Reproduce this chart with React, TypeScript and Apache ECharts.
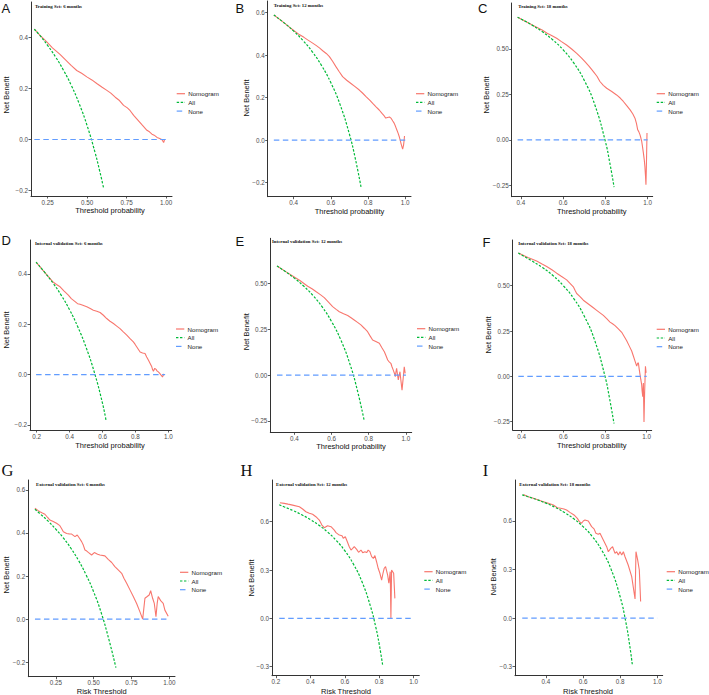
import React, { useEffect, useRef } from "react";
import * as echarts from "echarts";

// ---- Decision curves: [threshold, net benefit] ----
const nomogramA = [[0.165,0.433],[0.2,0.41],[0.244,0.383],[0.28,0.36],[0.328,0.334],[0.371,0.308],[0.4,0.29],[0.434,0.271],[0.465,0.26],[0.498,0.246],[0.53,0.234],[0.561,0.22],[0.595,0.205],[0.625,0.193],[0.65,0.182],[0.678,0.166],[0.705,0.153],[0.731,0.134],[0.755,0.124],[0.773,0.113],[0.795,0.095],[0.816,0.08],[0.847,0.058],[0.879,0.036],[0.895,0.03],[0.911,0.021],[0.925,0.017],[0.943,0.008],[0.96,0.004],[0.975,-0.001],[0.985,-0.012],[0.991,0.0]];
const allA = [[0.165,0.433],[0.2,0.409],[0.25,0.369],[0.3,0.324],[0.35,0.272],[0.4,0.212],[0.45,0.14],[0.5,0.054],[0.55,-0.051],[0.58,-0.125],[0.604,-0.19]];
const noneA = [0.165, 1.0];
const xTicksA = [0.25, 0.5, 0.75, 1.0];
const yTicksA = [-0.2, 0, 0.2, 0.4];

const nomogramB = [[0.293,0.589],[0.33,0.565],[0.37,0.537],[0.4,0.516],[0.43,0.497],[0.455,0.484],[0.475,0.472],[0.5,0.458],[0.52,0.446],[0.54,0.433],[0.556,0.421],[0.575,0.408],[0.592,0.393],[0.61,0.37],[0.627,0.346],[0.645,0.322],[0.663,0.299],[0.685,0.282],[0.708,0.267],[0.73,0.252],[0.753,0.236],[0.77,0.222],[0.789,0.205],[0.81,0.187],[0.825,0.173],[0.843,0.157],[0.86,0.142],[0.875,0.126],[0.887,0.114],[0.895,0.104],[0.905,0.107],[0.915,0.109],[0.923,0.104],[0.933,0.09],[0.941,0.079],[0.948,0.064],[0.955,0.048],[0.962,0.032],[0.968,0.016],[0.973,0.0],[0.977,-0.015],[0.982,-0.03],[0.986,-0.042],[0.989,-0.03],[0.991,-0.023],[0.994,0.0],[0.996,0.02]];
const allB = [[0.293,0.589],[0.35,0.551],[0.4,0.513],[0.45,0.469],[0.5,0.416],[0.55,0.351],[0.6,0.27],[0.65,0.166],[0.7,0.027],[0.73,-0.081],[0.762,-0.22]];
const noneB = [0.293, 1.0];
const xTicksB = [0.4, 0.6, 0.8, 1.0];
const yTicksB = [-0.2, 0, 0.2, 0.4, 0.6];

const nomogramC = [[0.384,0.675],[0.42,0.652],[0.46,0.628],[0.5,0.604],[0.522,0.588],[0.545,0.574],[0.569,0.559],[0.59,0.542],[0.616,0.522],[0.64,0.5],[0.664,0.476],[0.685,0.452],[0.703,0.43],[0.723,0.404],[0.743,0.375],[0.76,0.35],[0.774,0.321],[0.79,0.3],[0.806,0.284],[0.83,0.266],[0.853,0.247],[0.87,0.23],[0.885,0.211],[0.9,0.19],[0.917,0.165],[0.93,0.142],[0.94,0.119],[0.947,0.09],[0.953,0.055],[0.958,0.045],[0.964,0.027],[0.968,0.01],[0.972,-0.009],[0.976,-0.04],[0.98,-0.073],[0.984,-0.11],[0.987,-0.147],[0.99,-0.2],[0.992,-0.247],[0.994,-0.15],[0.995,-0.092],[0.997,0.037]];
const allC = [[0.384,0.675],[0.45,0.633],[0.5,0.596],[0.55,0.551],[0.6,0.495],[0.65,0.423],[0.7,0.327],[0.75,0.192],[0.8,-0.01],[0.82,-0.122],[0.841,-0.26]];
const noneC = [0.384, 1.0];
const xTicksC = [0.4, 0.6, 0.8, 1.0];
const yTicksC = [-0.25, 0, 0.25, 0.5];

const nomogramD = [[0.196,0.447],[0.23,0.42],[0.26,0.397],[0.301,0.367],[0.32,0.358],[0.342,0.349],[0.365,0.333],[0.392,0.316],[0.41,0.302],[0.433,0.29],[0.448,0.282],[0.463,0.28],[0.48,0.276],[0.504,0.27],[0.525,0.263],[0.544,0.256],[0.565,0.252],[0.585,0.247],[0.605,0.236],[0.625,0.223],[0.645,0.212],[0.666,0.203],[0.686,0.193],[0.706,0.183],[0.726,0.17],[0.747,0.157],[0.767,0.143],[0.787,0.13],[0.798,0.12],[0.808,0.11],[0.818,0.1],[0.828,0.09],[0.843,0.086],[0.858,0.084],[0.868,0.07],[0.879,0.057],[0.889,0.044],[0.899,0.031],[0.904,0.02],[0.909,0.013],[0.917,0.025],[0.925,0.021],[0.932,0.014],[0.939,0.011],[0.946,0.006],[0.953,0.0],[0.958,-0.004],[0.964,-0.009],[0.969,-0.002],[0.974,0.003]];
const allD = [[0.196,0.447],[0.25,0.405],[0.3,0.363],[0.35,0.314],[0.4,0.257],[0.45,0.189],[0.5,0.108],[0.55,0.009],[0.6,-0.115],[0.621,-0.182]];
const noneD = [0.196, 0.98];
const xTicksD = [0.2, 0.4, 0.6, 0.8, 1.0];
const yTicksD = [-0.2, 0, 0.2, 0.4];

const nomogramE = [[0.307,0.594],[0.35,0.566],[0.391,0.54],[0.43,0.515],[0.472,0.484],[0.495,0.47],[0.516,0.455],[0.54,0.438],[0.561,0.422],[0.585,0.396],[0.606,0.373],[0.625,0.358],[0.642,0.345],[0.665,0.334],[0.687,0.324],[0.705,0.312],[0.722,0.3],[0.74,0.287],[0.758,0.273],[0.776,0.255],[0.794,0.236],[0.808,0.212],[0.821,0.191],[0.838,0.183],[0.857,0.173],[0.87,0.15],[0.884,0.127],[0.893,0.105],[0.902,0.082],[0.91,0.072],[0.919,0.064],[0.925,0.045],[0.932,0.027],[0.938,0.01],[0.943,-0.009],[0.946,0.015],[0.95,0.036],[0.955,0.0],[0.959,-0.027],[0.963,-0.005],[0.968,0.018],[0.973,-0.03],[0.979,-0.082],[0.983,-0.04],[0.986,-0.009],[0.991,0.045],[0.996,0.009]];
const allE = [[0.307,0.594],[0.35,0.565],[0.4,0.528],[0.45,0.485],[0.5,0.434],[0.55,0.371],[0.6,0.292],[0.65,0.191],[0.7,0.057],[0.74,-0.088],[0.776,-0.25]];
const noneE = [0.307, 1.0];
const xTicksE = [0.4, 0.6, 0.8, 1.0];
const yTicksE = [-0.25, 0, 0.25, 0.5];

const nomogramF = [[0.384,0.68],[0.43,0.656],[0.472,0.636],[0.5,0.618],[0.52,0.606],[0.545,0.588],[0.568,0.569],[0.59,0.552],[0.616,0.532],[0.632,0.513],[0.648,0.494],[0.656,0.475],[0.664,0.457],[0.68,0.44],[0.696,0.42],[0.712,0.406],[0.728,0.392],[0.744,0.378],[0.76,0.364],[0.776,0.35],[0.792,0.336],[0.808,0.318],[0.824,0.299],[0.836,0.29],[0.848,0.28],[0.864,0.262],[0.88,0.243],[0.892,0.22],[0.904,0.196],[0.916,0.168],[0.928,0.14],[0.936,0.112],[0.944,0.084],[0.948,0.07],[0.952,0.056],[0.956,0.07],[0.96,0.075],[0.964,0.04],[0.968,0.009],[0.972,-0.02],[0.976,-0.047],[0.978,-0.08],[0.981,-0.112],[0.984,-0.037],[0.987,-0.252],[0.99,-0.093],[0.994,0.056],[0.997,0.019]];
const allF = [[0.384,0.68],[0.45,0.636],[0.5,0.6],[0.55,0.556],[0.6,0.5],[0.65,0.429],[0.7,0.333],[0.75,0.2],[0.8,0.0],[0.82,-0.111],[0.843,-0.26]];
const noneF = [0.384, 1.0];
const xTicksF = [0.4, 0.6, 0.8, 1.0];
const yTicksF = [-0.25, 0, 0.25, 0.5];

const nomogramG = [[0.111,0.515],[0.13,0.505],[0.144,0.499],[0.16,0.493],[0.177,0.487],[0.195,0.472],[0.21,0.46],[0.232,0.453],[0.254,0.445],[0.276,0.434],[0.288,0.42],[0.299,0.406],[0.321,0.398],[0.338,0.396],[0.354,0.395],[0.376,0.383],[0.391,0.391],[0.409,0.372],[0.42,0.36],[0.431,0.344],[0.442,0.321],[0.454,0.316],[0.464,0.31],[0.486,0.298],[0.504,0.309],[0.526,0.301],[0.541,0.298],[0.574,0.294],[0.596,0.278],[0.619,0.263],[0.64,0.244],[0.662,0.229],[0.685,0.213],[0.7,0.19],[0.718,0.167],[0.74,0.136],[0.762,0.105],[0.784,0.073],[0.806,0.034],[0.824,0.0],[0.839,0.097],[0.854,0.105],[0.867,0.112],[0.877,0.132],[0.89,0.097],[0.901,0.073],[0.912,0.011],[0.92,0.073],[0.927,0.105],[0.943,0.086],[0.96,0.073],[0.971,0.042],[0.993,0.014]];
const allG = [[0.111,0.51],[0.15,0.486],[0.2,0.454],[0.25,0.417],[0.3,0.376],[0.35,0.328],[0.4,0.272],[0.45,0.205],[0.5,0.126],[0.55,0.029],[0.6,-0.093],[0.647,-0.225]];
const noneG = [0.111, 1.0];
const xTicksG = [0.25, 0.5, 0.75, 1.0];
const yTicksG = [-0.2, 0, 0.2, 0.4, 0.6];

const nomogramH = [[0.223,0.718],[0.248,0.714],[0.27,0.709],[0.297,0.703],[0.336,0.693],[0.355,0.679],[0.374,0.662],[0.394,0.652],[0.413,0.646],[0.432,0.631],[0.452,0.61],[0.467,0.579],[0.481,0.563],[0.5,0.575],[0.52,0.569],[0.539,0.548],[0.549,0.532],[0.568,0.517],[0.584,0.513],[0.591,0.497],[0.603,0.507],[0.613,0.48],[0.626,0.445],[0.636,0.424],[0.646,0.434],[0.655,0.445],[0.669,0.428],[0.68,0.41],[0.694,0.424],[0.704,0.408],[0.717,0.414],[0.727,0.408],[0.736,0.424],[0.746,0.414],[0.756,0.383],[0.766,0.372],[0.775,0.39],[0.785,0.35],[0.794,0.311],[0.804,0.28],[0.814,0.238],[0.822,0.28],[0.829,0.311],[0.837,0.321],[0.849,0.269],[0.856,0.218],[0.864,0.29],[0.868,0.0],[0.872,0.3],[0.884,0.28],[0.891,0.124]];
const allH = [[0.219,0.705],[0.25,0.691],[0.3,0.669],[0.35,0.643],[0.4,0.613],[0.45,0.578],[0.5,0.536],[0.55,0.484],[0.6,0.42],[0.65,0.337],[0.7,0.227],[0.75,0.072],[0.78,-0.054],[0.8,-0.16],[0.82,-0.29]];
const noneH = [0.219, 1.0];
const xTicksH = [0.2, 0.4, 0.6, 0.8, 1.0];
const yTicksH = [-0.3, 0, 0.3, 0.6];

const nomogramI = [[0.278,0.764],[0.305,0.75],[0.332,0.74],[0.359,0.729],[0.386,0.719],[0.413,0.709],[0.44,0.699],[0.461,0.682],[0.479,0.678],[0.497,0.674],[0.511,0.668],[0.529,0.653],[0.551,0.637],[0.569,0.616],[0.58,0.596],[0.592,0.586],[0.601,0.6],[0.61,0.606],[0.628,0.6],[0.646,0.565],[0.659,0.551],[0.669,0.524],[0.682,0.518],[0.691,0.524],[0.709,0.483],[0.727,0.441],[0.736,0.41],[0.749,0.431],[0.759,0.441],[0.772,0.4],[0.781,0.41],[0.79,0.39],[0.799,0.41],[0.808,0.39],[0.817,0.41],[0.826,0.379],[0.843,0.328],[0.862,0.256],[0.88,0.118],[0.885,0.41],[0.894,0.359],[0.903,0.297],[0.91,0.102]];
const allI = [[0.272,0.761],[0.3,0.751],[0.35,0.732],[0.4,0.71],[0.45,0.684],[0.5,0.652],[0.55,0.613],[0.6,0.565],[0.65,0.503],[0.7,0.42],[0.75,0.304],[0.8,0.13],[0.83,-0.023],[0.85,-0.16],[0.865,-0.285]];
const noneI = [0.272, 1.0];
const xTicksI = [0.4, 0.6, 0.8, 1.0];
const yTicksI = [-0.3, 0, 0.3, 0.6];

const legendNames = ["Nomogram", "All", "None"];

// ---- Panel layout (pixel positions) ----
const panels = [
  { letter: "A", serif: false, title: "Training Set: 6 months", xName: "Threshold probability",
    nomogram: nomogramA, all: allA, none: noneA, xTicks: xTicksA, yTicks: yTicksA, xDec: 2, yDec: 1,
    grid: [31, 2, 172, 196], xr: [0.144, 1.038], yr: [-0.222, 0.54],
    letterPos: [1.5, 8], titlePos: [35, 6], xtPos: [110, 210.7], ytPos: [6, 95], legPos: [176.7, 93.7] },
  { letter: "B", serif: false, title: "Training Set: 12 months", xName: "Threshold probability",
    nomogram: nomogramB, all: allB, none: noneB, xTicks: xTicksB, yTicks: yTicksB, xDec: 1, yDec: 1,
    grid: [267.7, 1, 411, 196.7], xr: [0.26, 1.031], yr: [-0.266, 0.655],
    letterPos: [235.5, 8.5], titlePos: [273.7, 5.7], xtPos: [349.5, 211], ytPos: [246.3, 98], legPos: [416, 93.7] },
  { letter: "C", serif: false, title: "Training Set: 18 months", xName: "Threshold probability",
    nomogram: nomogramC, all: allC, none: noneC, xTicks: xTicksC, yTicks: yTicksC, xDec: 1, yDec: 2,
    grid: [511.7, 3, 652.7, 196.7], xr: [0.356, 1.024], yr: [-0.313, 0.753],
    letterPos: [478, 8.5], titlePos: [518.3, 6.7], xtPos: [591.7, 211], ytPos: [486.7, 95], legPos: [656.7, 93.7] },
  { letter: "D", serif: false, title: "Internal validation Set: 6 months", xName: "Threshold probability",
    nomogram: nomogramD, all: allD, none: noneD, xTicks: xTicksD, yTicks: yTicksD, xDec: 1, yDec: 1,
    grid: [30, 240, 171.7, 430], xr: [0.159, 1.02], yr: [-0.22, 0.535],
    letterPos: [1.5, 240], titlePos: [35, 243.3], xtPos: [110, 445], ytPos: [6, 330], legPos: [176, 329] },
  { letter: "E", serif: false, title: "Internal validation Set: 12 months", xName: "Threshold probability",
    nomogram: nomogramE, all: allE, none: noneE, xTicks: xTicksE, yTicks: yTicksE, xDec: 1, yDec: 2,
    grid: [270.3, 238.3, 411.7, 432.3], xr: [0.271, 1.031], yr: [-0.312, 0.745],
    letterPos: [235.5, 241], titlePos: [272, 241], xtPos: [351, 446.7], ytPos: [246, 331.7], legPos: [417, 328.7] },
  { letter: "F", serif: false, title: "Internal validation Set: 18 months", xName: "Threshold probability",
    nomogram: nomogramF, all: allF, none: noneF, xTicks: xTicksF, yTicks: yTicksF, xDec: 1, yDec: 2,
    grid: [512.7, 240, 651.7, 430], xr: [0.357, 1.024], yr: [-0.296, 0.752],
    letterPos: [482.5, 242], titlePos: [518.3, 243.3], xtPos: [591.7, 445], ytPos: [488.3, 335], legPos: [656.7, 329.3] },
  { letter: "G", serif: true, title: "External validation Set: 6 months", xName: "Risk Threshold",
    nomogram: nomogramG, all: allG, none: noneG, xTicks: xTicksG, yTicks: yTicksG, xDec: 2, yDec: 1,
    grid: [28.3, 480, 175, 676.7], xr: [0.067, 1.038], yr: [-0.267, 0.646],
    letterPos: [1.5, 470], titlePos: [36, 484], xtPos: [101.7, 691.7], ytPos: [6, 575], legPos: [180, 572.3] },
  { letter: "H", serif: true, title: "External validation Set: 12 months", xName: "Risk Threshold",
    nomogram: nomogramH, all: allH, none: noneH, xTicks: xTicksH, yTicks: yTicksH, xDec: 1, yDec: 1,
    grid: [272, 480, 419.3, 675.7], xr: [0.177, 1.033], yr: [-0.356, 0.859],
    letterPos: [240.5, 470.5], titlePos: [276, 484], xtPos: [346, 691.7], ytPos: [251, 578], legPos: [424.3, 571.7] },
  { letter: "I", serif: true, title: "External validation Set: 18 months", xName: "Risk Threshold",
    nomogram: nomogramI, all: allI, none: noneI, xTicks: xTicksI, yTicks: yTicksI, xDec: 1, yDec: 1,
    grid: [515, 480, 662.7, 675.7], xr: [0.233, 1.029], yr: [-0.356, 0.853],
    letterPos: [482.8, 470.5], titlePos: [519.3, 484], xtPos: [588, 691.7], ytPos: [493.3, 576.7], legPos: [666.7, 571.7] },
];

const RED = "#F8766D";
const GREEN = "#00BA38";
const BLUE = "#619CFF";
const SANS = "'Liberation Sans', Arial, sans-serif";
const SERIF = "'Liberation Serif', 'Times New Roman', serif";
const GREEN_DASH = [2.4, 1.6];
const BLUE_DASH = [5.5, 3.5];

const fmt = (dec: number) => (v: number) => Number(v).toFixed(dec).replace("-", "\u2212");

function axisCommon(ticks: number[], dec: number) {
  return {
    type: "value" as const,
    axisLine: { show: true, onZero: false, lineStyle: { color: "#333333", width: 1 } },
    axisTick: { show: true, length: 2.5, customValues: ticks, lineStyle: { color: "#333333", width: 0.8 } },
    axisLabel: { customValues: ticks, formatter: fmt(dec), fontSize: 6.3, color: "#4D4D4D", fontFamily: SANS, margin: 3 },
    splitLine: { show: false },
  };
}

function buildOption() {
  const grid: any[] = [];
  const xAxis: any[] = [];
  const yAxis: any[] = [];
  const series: any[] = [];
  const graphic: any[] = [];

  panels.forEach((p, i) => {
    const [l, t, r, b] = p.grid;
    grid.push({ left: l, top: t, width: r - l, height: b - t });
    xAxis.push({ ...axisCommon(p.xTicks, p.xDec), gridIndex: i, min: p.xr[0], max: p.xr[1] });
    yAxis.push({ ...axisCommon(p.yTicks, p.yDec), gridIndex: i, min: p.yr[0], max: p.yr[1] });

    series.push({
      name: "Nomogram", type: "line", xAxisIndex: i, yAxisIndex: i, data: p.nomogram,
      symbol: "none", lineStyle: { color: RED, width: 1.1 }, z: 2,
    });
    series.push({
      name: "All", type: "line", xAxisIndex: i, yAxisIndex: i, data: p.all, smooth: true,
      symbol: "none", lineStyle: { color: GREEN, width: 1.2, type: GREEN_DASH }, z: 3,
    });
    series.push({
      name: "None", type: "line", xAxisIndex: i, yAxisIndex: i,
      data: [[p.none[0], 0], [p.none[1], 0]],
      symbol: "none", lineStyle: { color: BLUE, width: 1.2, type: BLUE_DASH }, z: 4,
    });

    // panel letter
    graphic.push({
      type: "text", x: p.letterPos[0], y: p.letterPos[1],
      style: {
        text: p.letter, fontSize: p.serif ? 16.5 : 13, fontFamily: p.serif ? SERIF : SANS,
        fill: "#111", align: "left", verticalAlign: "middle",
      },
    });
    // panel title
    graphic.push({
      type: "text", x: p.titlePos[0], y: p.titlePos[1],
      style: {
        text: p.title, fontSize: 4.8, fontWeight: "bold", fontFamily: SERIF,
        fill: "#111", align: "left", verticalAlign: "middle",
      },
    });
    // axis titles
    graphic.push({
      type: "text", x: p.xtPos[0], y: p.xtPos[1],
      style: { text: p.xName, fontSize: 7.5, fontFamily: SANS, fill: "#111", align: "center", verticalAlign: "middle" },
    });
    graphic.push({
      type: "text", x: p.ytPos[0], y: p.ytPos[1], rotation: Math.PI / 2,
      style: { text: "Net Benefit", fontSize: 7.5, fontFamily: SANS, fill: "#111", align: "center", verticalAlign: "middle" },
    });
    // legend
    const keys = [
      { color: RED, dash: null as number[] | null },
      { color: GREEN, dash: GREEN_DASH },
      { color: BLUE, dash: BLUE_DASH },
    ];
    keys.forEach((k, j) => {
      const y = p.legPos[1] + j * 8.7;
      graphic.push({
        type: "line",
        shape: { x1: p.legPos[0], y1: y, x2: p.legPos[0] + 8.3, y2: y },
        style: { stroke: k.color, lineWidth: 1.2, lineDash: k.dash || undefined },
      });
      graphic.push({
        type: "text", x: p.legPos[0] + 11.5, y,
        style: { text: legendNames[j], fontSize: 6.2, fontFamily: SANS, fill: "#222", align: "left", verticalAlign: "middle" },
      });
    });
  });

  return { animation: false, backgroundColor: "#ffffff", grid, xAxis, yAxis, series, graphic };
}

export default function App() {
  const ref = useRef<HTMLDivElement>(null);
  useEffect(() => {
    if (!ref.current) return;
    const chart = echarts.init(ref.current, undefined, { renderer: "svg" });
    chart.setOption(buildOption() as any);
    return () => chart.dispose();
  }, []);
  return (
    <div
      ref={ref}
      style={{ position: "fixed", left: 0, top: 0, width: 709, height: 695, background: "#fff" }}
    />
  );
}
